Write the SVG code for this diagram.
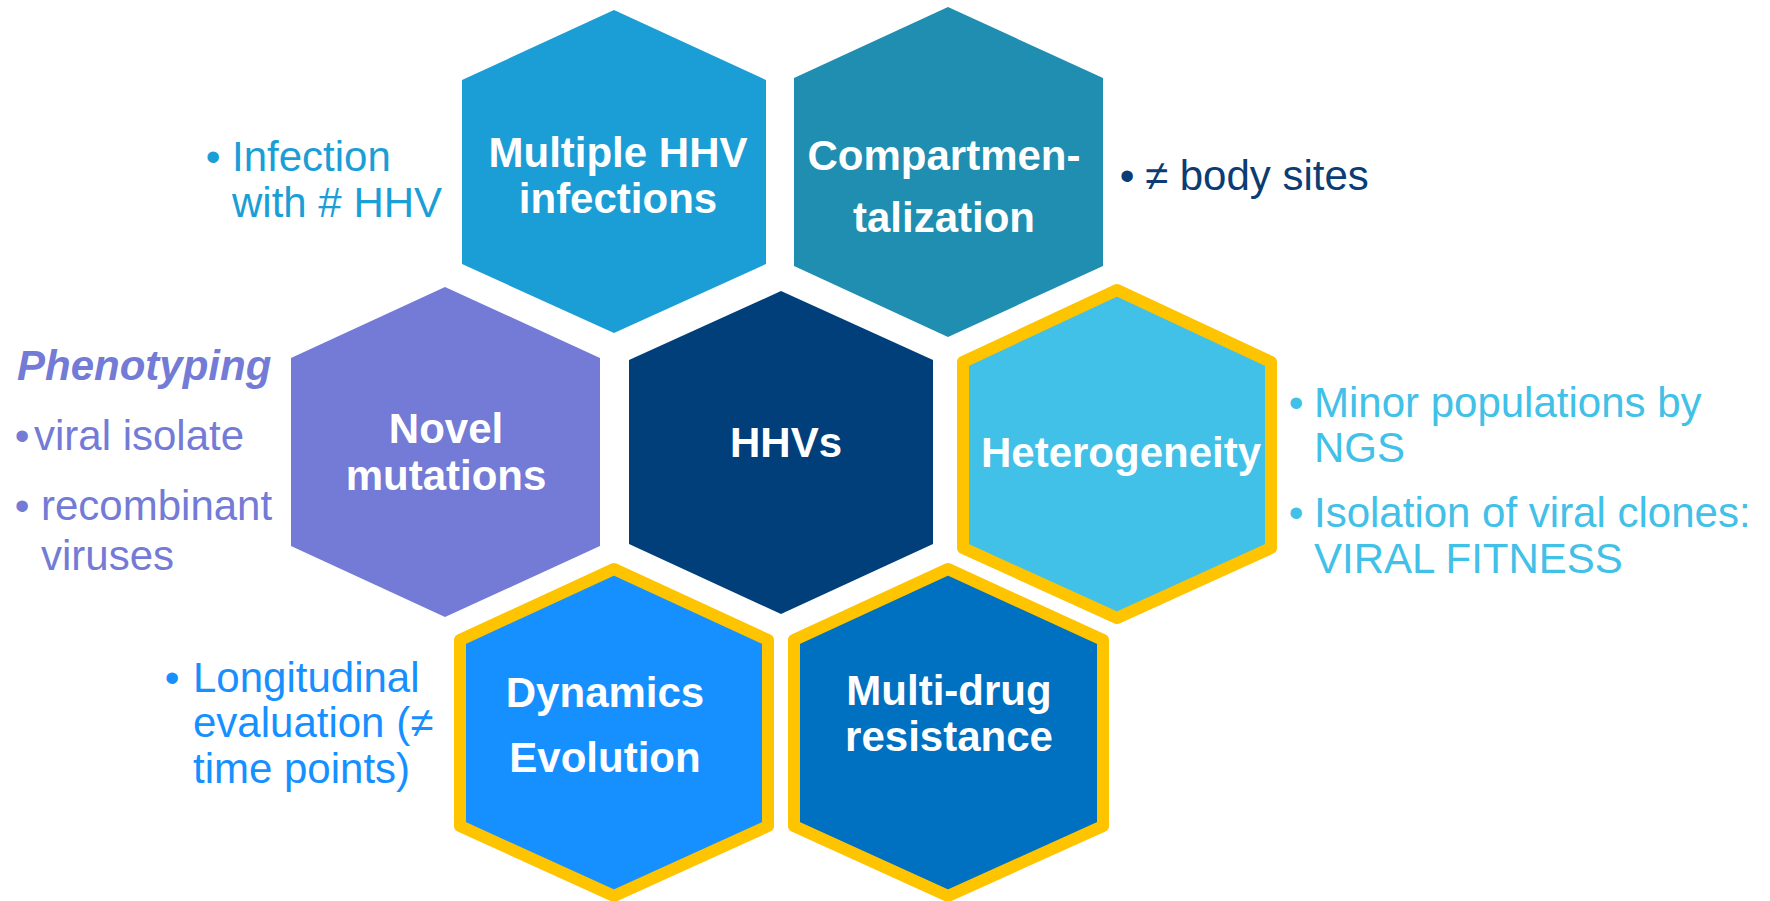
<svg xmlns="http://www.w3.org/2000/svg" width="1770" height="901" viewBox="0 0 1770 901">
  <style>
    text { font-family: "Liberation Sans", Arial, sans-serif; font-size: 42px; }
    .lbl { fill: #ffffff; font-weight: bold; text-anchor: middle; }
    .bul { text-anchor: middle; }
    .ring { stroke: #FFC400; stroke-width: 12; stroke-linejoin: round; }
    .c-multi { fill: #1B9ED6; }
    .c-comp { fill: #1F8EB0; }
    .c-novel { fill: #737BD6; }
    .c-hhv { fill: #003F7A; }
    .c-het { fill: #41C0E8; }
    .c-dyn { fill: #1790FF; }
    .c-mdr { fill: #0070C0; }
    .t-multi { fill: #1B9ED6; }
    .t-comp { fill: #0B3C74; }
    .t-novel { fill: #737BD6; }
    .t-het { fill: #41C0E8; }
    .t-dyn { fill: #1790FF; }
  </style>

  <rect width="1770" height="901" fill="#ffffff"/>

  <!-- honeycomb cells -->
  <g id="multiple-hhv">
    <polygon class="c-multi" points="614,10 766,80 766,264 614,333 462,264 462,80"/>
    <text class="lbl" x="618" y="167">Multiple HHV</text>
    <text class="lbl" x="618" y="213">infections</text>
  </g>

  <g id="compartmentalization">
    <polygon class="c-comp" points="948,7 1103,78 1103,266 948,337 794,266 794,78"/>
    <text class="lbl" x="944" y="170">Compartmen-</text>
    <text class="lbl" x="944" y="232">talization</text>
  </g>

  <g id="novel-mutations">
    <polygon class="c-novel" points="445,287 600,358 600,546 445,617 291,546 291,358"/>
    <text class="lbl" x="446" y="443">Novel</text>
    <text class="lbl" x="446" y="490">mutations</text>
  </g>

  <g id="hhvs">
    <polygon class="c-hhv" points="781,291 933,360 933,544 781,614 629,544 629,360"/>
    <text class="lbl" x="786" y="457">HHVs</text>
  </g>

  <g id="heterogeneity">
    <polygon class="c-het ring" points="1117,290 1271,362 1271,548 1117,618 963,548 963,362"/>
    <text class="lbl" x="1121" y="467">Heterogeneity</text>
  </g>

  <g id="dynamics-evolution">
    <polygon class="c-dyn ring" points="614,569 768,640 768,826 614,896 460,826 460,640"/>
    <text class="lbl" x="605" y="707">Dynamics</text>
    <text class="lbl" x="605" y="772">Evolution</text>
  </g>

  <g id="multi-drug-resistance">
    <polygon class="c-mdr ring" points="948,569 1103,640 1103,826 948,896 794,826 794,640"/>
    <text class="lbl" x="949" y="705">Multi-drug</text>
    <text class="lbl" x="949" y="751">resistance</text>
  </g>

  <!-- side notes -->
  <g id="note-multiple" class="t-multi">
    <text class="bul" x="213" y="171">•</text>
    <text x="232" y="171">Infection</text>
    <text x="232" y="217">with # HHV</text>
  </g>

  <g id="note-compartment" class="t-comp">
    <text class="bul" x="1127" y="190">•</text>
    <text x="1145" y="190">≠ body sites</text>
  </g>

  <g id="note-novel" class="t-novel">
    <text x="17" y="380" font-weight="bold" font-style="italic">Phenotyping</text>
    <text class="bul" x="22" y="450">•</text>
    <text x="34" y="450">viral isolate</text>
    <text class="bul" x="22" y="520">•</text>
    <text x="41" y="520">recombinant</text>
    <text x="41" y="570">viruses</text>
  </g>

  <g id="note-heterogeneity" class="t-het">
    <text class="bul" x="1296" y="417">•</text>
    <text x="1314" y="417">Minor populations by</text>
    <text x="1314" y="462">NGS</text>
    <text class="bul" x="1296" y="527">•</text>
    <text x="1314" y="527">Isolation of viral clones:</text>
    <text x="1314" y="573">VIRAL FITNESS</text>
  </g>

  <g id="note-dynamics" class="t-dyn">
    <text class="bul" x="172" y="692">•</text>
    <text x="193" y="692">Longitudinal</text>
    <text x="193" y="737">evaluation (≠</text>
    <text x="193" y="783">time points)</text>
  </g>
</svg>
